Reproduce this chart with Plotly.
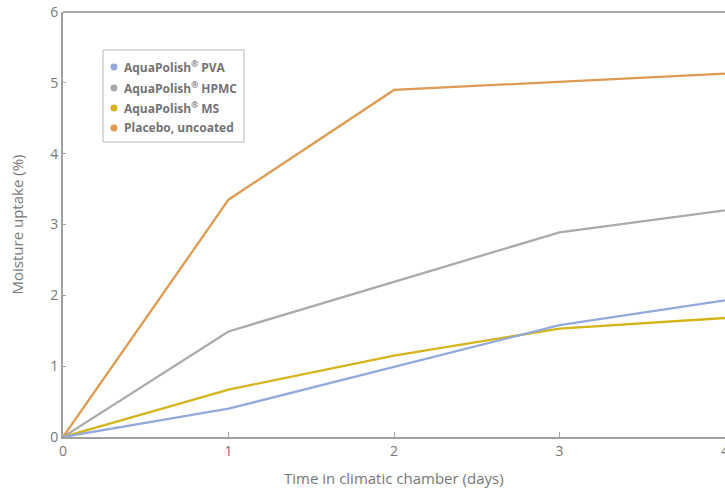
import plotly.graph_objects as go

days = [0, 1, 2, 3, 4]
pva = [0, 0.40, 0.99, 1.58, 1.93]
hpmc = [0, 1.49, 2.19, 2.89, 3.20]
ms = [0, 0.67, 1.15, 1.53, 1.68]
placebo = [0, 3.35, 4.90, 5.02, 5.13]

names = ["AquaPolish<sup>®</sup> PVA", "AquaPolish<sup>®</sup> HPMC",
         "AquaPolish<sup>®</sup> MS", "Placebo, uncoated"]
colors = ["#93a9dc", "#aaaaaa", "#d4b419", "#dd9a52"]
series = [pva, hpmc, ms, placebo]

fig = go.Figure()
for i in [3, 1, 2, 0]:
    fig.add_trace(go.Scatter(x=days, y=series[i], mode="lines", name=names[i],
                             line=dict(color=colors[i], width=2.3),
                             showlegend=False, hoverinfo="skip", cliponaxis=False))

font = "Open Sans, Noto Sans, sans-serif"
fig.update_layout(
    width=725, height=489,
    margin=dict(l=63, r=0, t=12, b=52, autoexpand=False),
    plot_bgcolor="white", paper_bgcolor="white",
    font=dict(family=font, color="#777777", size=14),
    showlegend=False,
    xaxis=dict(range=[0, 4], tickvals=days, showgrid=False, zeroline=False,
               showline=True, linecolor="#a0a0a0", linewidth=2,
               ticks="inside", ticklen=5, tickcolor="#a0a0a0",
               automargin=False, ticklabeloverflow="allow",
               tickfont=dict(size=14, color="#777777")),
    yaxis=dict(range=[0, 6], dtick=1, showgrid=False, zeroline=False,
               showline=True, linecolor="#a0a0a0", linewidth=2,
               ticks="inside", ticklen=3, tickcolor="#a0a0a0",
               automargin=False, ticklabeloverflow="allow",
               tickfont=dict(size=14, color="#777777")),
)
# axis titles
fig.add_annotation(text="Moisture uptake (%)", xref="paper", yref="paper",
                   x=-0.0695, y=0.5, textangle=-90, showarrow=False,
                   xanchor="center", yanchor="middle",
                   font=dict(size=15, color="#777777"))
fig.add_annotation(text="Time in climatic chamber (days)", xref="paper", yref="paper",
                   x=0.5, y=-0.0965, showarrow=False,
                   xanchor="center", yanchor="middle",
                   font=dict(size=15, color="#777777"))
# top frame line
fig.add_shape(type="line", xref="paper", yref="paper", x0=0, x1=1, y0=1, y1=1,
              line=dict(color="#a8a8a8", width=2))
# legend box
fig.add_shape(type="rect", xref="paper", yref="paper", x0=0.0604, x1=0.2734,
              y0=0.694, y1=0.9106, line=dict(color="#b8b8b8", width=1),
              fillcolor="white", layer="below")
row_y = [0.8706, 0.8212, 0.7741, 0.7271]
rx, ry = 0.0053, 0.0082
for i in range(4):
    fig.add_shape(type="circle", xref="paper", yref="paper",
                  x0=0.0770 - rx, x1=0.0770 + rx,
                  y0=row_y[i] - ry, y1=row_y[i] + ry,
                  fillcolor=colors[i], line=dict(width=0))
    fig.add_annotation(text="<b>" + names[i] + "</b>", xref="paper", yref="paper",
                       x=0.0895, y=row_y[i], showarrow=False,
                       xanchor="left", yanchor="middle",
                       font=dict(size=12, color="#737373"))
fig.write_html("out.html",
               config={"displayModeBar": False},
               post_script="document.body.style.margin='0px';"
                           "document.body.style.overflow='hidden';")
